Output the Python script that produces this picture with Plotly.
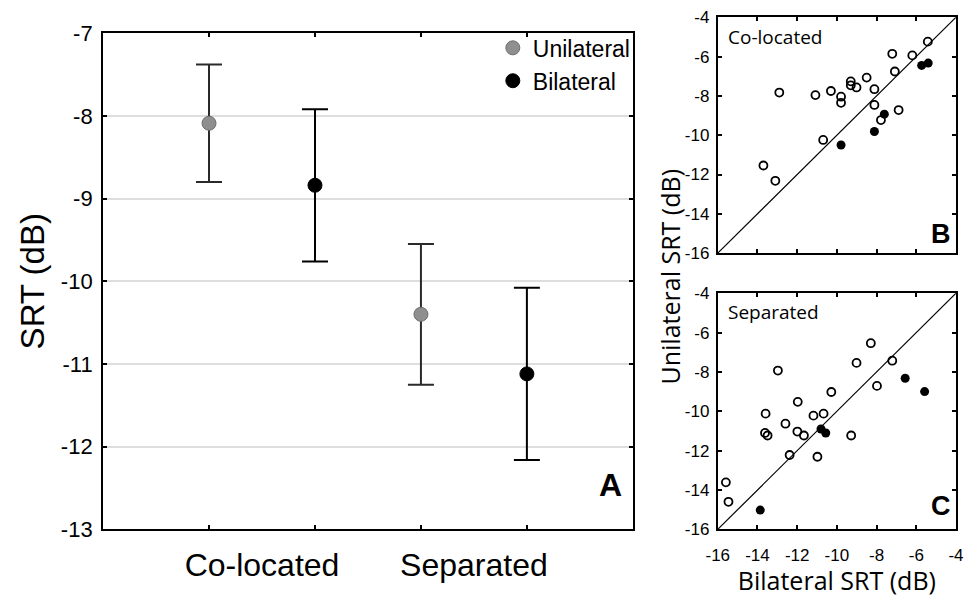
import plotly.graph_objects as go

# ---------------- Panel A data ----------------
conditions = ["Co-located", "Separated"]
uni_mean = [-8.09, -10.40]
uni_err = [0.71, 0.85]
bi_mean = [-8.84, -11.12]
bi_err = [0.92, 1.04]

# ---------------- Panel B (co-located) ----------------
b_open_bi = [-12.90, -11.08, -10.30, -9.79, -9.79, -9.30, -9.30, -9.01, -8.50, -8.11,
             -8.11, -7.21, -7.08, -6.20, -5.42, -6.89, -7.78, -10.69, -13.70, -13.10]
b_open_uni = [-7.83, -7.96, -7.75, -8.04, -8.35, -7.26, -7.46, -7.57, -7.07, -7.66,
              -8.46, -5.86, -6.76, -5.94, -5.24, -8.72, -9.23, -10.24, -11.54, -12.32]
b_fill_bi = [-7.61, -8.11, -9.79, -5.73, -5.40]
b_fill_uni = [-8.93, -9.81, -10.50, -6.45, -6.33]

# ---------------- Panel C (separated) ----------------
c_open_bi = [-12.97, -11.97, -10.28, -9.01, -8.29, -7.21, -7.98, -13.59, -11.18, -10.67,
             -12.59, -13.62, -13.49, -11.99, -11.66, -9.28, -12.38, -10.98, -15.59, -15.46]
c_open_uni = [-7.93, -9.52, -9.02, -7.54, -6.54, -7.43, -8.71, -10.12, -10.22, -10.12,
              -10.63, -11.10, -11.23, -11.03, -11.23, -11.23, -12.22, -12.31, -13.61, -14.60]
c_fill_bi = [-6.56, -5.58, -10.80, -10.56, -13.86]
c_fill_uni = [-8.32, -9.00, -10.90, -11.10, -15.02]

scatter_range = [-16, -4]
scatter_ticks = [-16, -14, -12, -10, -8, -6, -4]
a_ticks = [-13, -12, -11, -10, -9, -8, -7]

W, H = 964, 597
def px(x):
    return x / W
def py(y):
    return 1 - y / H

ARIAL = "Liberation Sans, Arial, sans-serif"
SANS2 = "Open Sans, Noto Sans, sans-serif"

fig = go.Figure()

uni_x = [2 * i + 1 for i in range(len(conditions))]
bi_x = [2 * i + 2 for i in range(len(conditions))]

fig.add_trace(go.Scatter(
    x=uni_x, y=uni_mean, mode="markers", name="Unilateral",
    marker=dict(size=14, color="#8f8f8f", line=dict(color="#6e6e6e", width=1)),
    error_y=dict(type="data", array=uni_err, color="#2a2a2a", thickness=2, width=13),
    xaxis="x", yaxis="y"))
fig.add_trace(go.Scatter(
    x=bi_x, y=bi_mean, mode="markers", name="Bilateral",
    marker=dict(size=14, color="#000000", line=dict(color="#000000", width=1)),
    error_y=dict(type="data", array=bi_err, color="#000000", thickness=2, width=13),
    xaxis="x", yaxis="y"))

# diagonal + points for B and C
for xa, ya, ob, ou, fb, fu in [("x2", "y2", b_open_bi, b_open_uni, b_fill_bi, b_fill_uni),
                               ("x3", "y3", c_open_bi, c_open_uni, c_fill_bi, c_fill_uni)]:
    fig.add_trace(go.Scatter(x=scatter_range, y=scatter_range, mode="lines",
                             line=dict(color="black", width=1.2), showlegend=False,
                             xaxis=xa, yaxis=ya, hoverinfo="skip"))
    fig.add_trace(go.Scatter(x=ob, y=ou, mode="markers", showlegend=False,
                             marker=dict(symbol="circle-open", size=8, color="black",
                                         line=dict(width=1.8, color="black")),
                             xaxis=xa, yaxis=ya))
    fig.add_trace(go.Scatter(x=fb, y=fu, mode="markers", showlegend=False,
                             marker=dict(symbol="circle", size=9, color="black"),
                             xaxis=xa, yaxis=ya))

# category label overlay axis (uses the same scale as panel A)
fig.add_trace(go.Scatter(x=[0], y=[None], mode="markers", showlegend=False,
                         xaxis="x4", yaxis="y", hoverinfo="skip"))

axA_dom_x = [px(93), px(634)]
axA_dom_y = [py(540), py(22)]

common_line = dict(showline=True, linecolor="black", linewidth=2, mirror="ticks",
                   ticks="inside", ticklen=4, tickwidth=1.5, tickcolor="black",
                   zeroline=False)

sc_text = [str(v) for v in scatter_ticks]

fig.update_layout(
    width=W, height=H,
    margin=dict(l=0, r=0, t=0, b=0),
    paper_bgcolor="white", plot_bgcolor="white",
    showlegend=True,
    legend=dict(x=px(491), y=py(15), xanchor="left", yanchor="top",
                font=dict(family=ARIAL, size=23, color="black"),
                bgcolor="rgba(0,0,0,0)", tracegroupgap=0, itemwidth=30),
    xaxis=dict(domain=axA_dom_x, range=[0, 5], tickvals=[1, 2, 3, 4],
               ticktext=["", "", "", ""], showgrid=False, anchor="y", **common_line),
    xaxis4=dict(overlaying="x", anchor="y", side="bottom", range=[0, 5],
                tickvals=[2 * i + 1.5 for i in range(len(conditions))], ticktext=conditions,
                ticks="", showline=False, showgrid=False, zeroline=False,
                tickfont=dict(family=ARIAL, size=32, color="black"), ticklabelstandoff=14),
    yaxis=dict(domain=axA_dom_y, range=[-13, -7], tickvals=a_ticks,
               ticktext=[str(v) for v in a_ticks], anchor="x",
               showgrid=True, gridcolor="#dedede", gridwidth=1.5,
               tickfont=dict(family=ARIAL, size=22, color="black"), ticklabelstandoff=4,
               title=dict(text="SRT (dB)", font=dict(family=ARIAL, size=33, color="black"),
                          standoff=6),
               **common_line),
    xaxis2=dict(domain=[px(720.7), 1.0], range=scatter_range, tickvals=scatter_ticks,
                showticklabels=False, showgrid=False, anchor="y2", **common_line),
    yaxis2=dict(domain=[py(251.7), py(5.5)], range=scatter_range, tickvals=scatter_ticks,
                ticktext=sc_text, showgrid=False, anchor="x2",
                tickfont=dict(family=ARIAL, size=17, color="black"), ticklabelstandoff=3,
                **common_line),
    xaxis3=dict(domain=[px(720.7), 1.0], range=scatter_range, tickvals=scatter_ticks,
                ticktext=sc_text, showgrid=False, anchor="y3", ticklabeloverflow="allow",
                tickfont=dict(family=ARIAL, size=17, color="black"), ticklabelstandoff=9,
                title=dict(text="Bilateral SRT (dB)",
                           font=dict(family=SANS2, size=25, color="black"), standoff=6),
                **common_line),
    yaxis3=dict(domain=[py(540), py(293.5)], range=scatter_range, tickvals=scatter_ticks,
                ticktext=sc_text, showgrid=False, anchor="x3",
                tickfont=dict(family=ARIAL, size=17, color="black"), ticklabelstandoff=3,
                **common_line),
)

annotations = [
    dict(text="<b>A</b>", x=px(611), y=py(494), xref="paper", yref="paper",
         xanchor="center", yanchor="middle",
         showarrow=False, font=dict(family=ARIAL, size=32, color="black")),
    dict(text="<b>B</b>", x=px(949), y=py(232), xref="paper", yref="paper",
         xanchor="center", yanchor="middle",
         showarrow=False, font=dict(family=ARIAL, size=27, color="black")),
    dict(text="<b>C</b>", x=px(949), y=py(516), xref="paper", yref="paper",
         xanchor="center", yanchor="middle",
         showarrow=False, font=dict(family=ARIAL, size=27, color="black")),
    dict(text="Co-located", x=px(729), y=py(26), xref="paper", yref="paper",
         xanchor="left", yanchor="middle", showarrow=False,
         font=dict(family=SANS2, size=19, color="black")),
    dict(text="Separated", x=px(729), y=py(313), xref="paper", yref="paper",
         xanchor="left", yanchor="middle", showarrow=False,
         font=dict(family=SANS2, size=19, color="black")),
    dict(text="Unilateral SRT (dB)", x=px(672), y=py(276), xref="paper", yref="paper",
         xanchor="center", yanchor="middle",
         textangle=-90, showarrow=False,
         font=dict(family=SANS2, size=25, color="black")),
]
fig.update_layout(annotations=annotations)

fig.write_html("out.html")
